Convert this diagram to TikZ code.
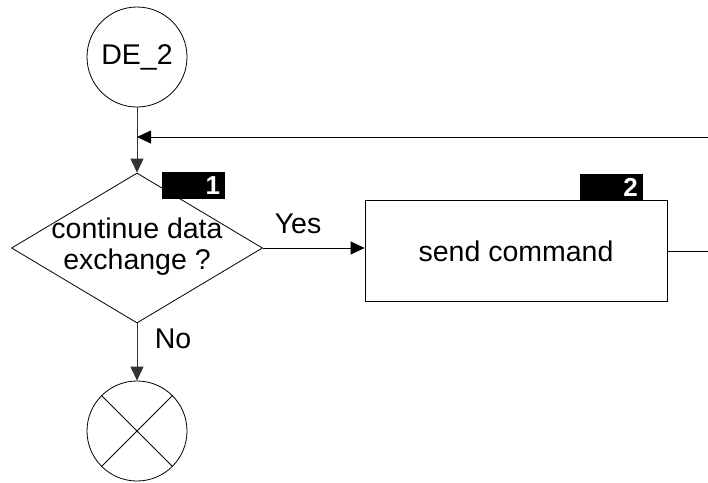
\documentclass[tikz,border=0pt]{standalone}
\usepackage{fontspec}
\setmainfont{Liberation Sans}
\usetikzlibrary{positioning, shapes.geometric, arrows.meta}
\tikzstyle{conn}=[draw, shape=circle, minimum size=100pt, inner sep=0pt, line width=0.8pt]
\tikzstyle{dec}=[draw, shape=diamond, minimum width=251pt, minimum height=150pt, inner sep=0pt, line width=0.8pt]
\tikzstyle{proc}=[draw, shape=rectangle, minimum width=302pt, minimum height=101pt, line width=0.8pt]
\tikzstyle{tag}=[fill=black, text=white, font=\fontsize{26}{26}\selectfont\bfseries, inner xsep=5pt, inner ysep=0pt, text width=53pt, align=right, minimum height=27pt]
\tikzstyle{flow}=[line width=0.8pt, black!80]
\tikzset{>={Triangle[length=14pt,width=13pt]}}

\begin{document}
\begin{tikzpicture}[x=1pt, y=-1pt, font=\fontsize{28.5}{31}\selectfont]
\useasboundingbox (0,0) rectangle (708,482);
\node[conn] (DE) at (137,57) {DE\_2};
\node[dec] (Q1) at (137,248) {\makebox[0pt]{\begin{tabular}{@{}c@{}}continue data\\exchange ?\end{tabular}}};
\node[proc] (SC) at (516,251) {send command};
\node[conn] (X) at (137,431) {};
\node[tag, anchor=north west] (T1) at (162,172) {1};
\node[tag, anchor=south east] (T2) at (643,201) {2};
\node (yes) at (298,224) {Yes};
\node (no) at (173,339) {No};
\coordinate (fb) at (708,137);
\coordinate (out) at (708,251);

\draw[flow, ->] (DE) -- (Q1.north);
\draw[->, line width=0.8pt] (fb) -- (fb -| DE.south);
\draw[->, line width=0.8pt] (Q1.east) -- (Q1.east -| SC.west);
\draw[flow, ->] (Q1.south) -- (X.north);
\draw[line width=0.8pt] (SC.east) -- (out);
\draw[line width=0.8pt] (X.north west) -- (X.south east);
\draw[line width=0.8pt] (X.north east) -- (X.south west);
\end{tikzpicture}
\end{document}
